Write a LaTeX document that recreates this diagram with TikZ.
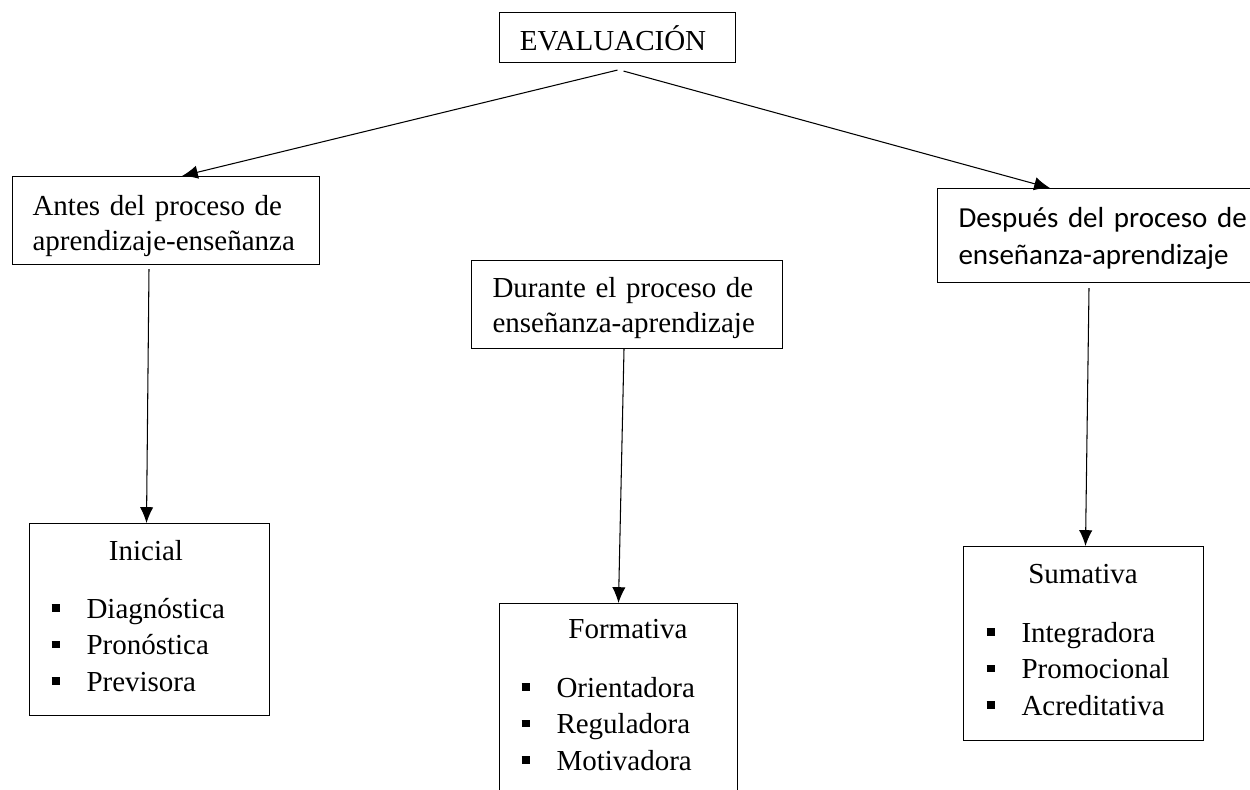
\documentclass[tikz,border=0pt]{standalone}
\usepackage{fontspec}
\setmainfont{Liberation Serif}
\newfontfamily\calibri{Carlito}
\usepackage{tikz}
\usetikzlibrary{arrows.meta, positioning, calc}

\newcommand{\cuadro}{\raisebox{0.13cm}{\rule{0.16cm}{0.15cm}}\hspace{0.54cm}}

\begin{document}
\begin{tikzpicture}[x=0.02cm, y=-0.02cm, line width=0.6pt,
  caja/.style={draw, inner sep=0pt, anchor=north west},
  texto/.style={anchor=base west, inner sep=0pt, align=left, font=\fontsize{16.5}{20.3}\selectfont},
  lista/.style={texto, font=\fontsize{16.5}{20.8}\selectfont},
  flecha/.style={-{Latex[length=9pt, width=7.6pt]}}]

  % Page
  \useasboundingbox (0,0) rectangle (1250,789);
  \clip (0,0) rectangle (1250,789);

  % EVALUACION
  \node[caja, minimum width=4.72cm, minimum height=1.0cm] (eval) at (499,12) {};
  \node[texto, anchor=base] (evaltxt) at (613,50) {EVALUACIÓN};

  % Before, during, after
  \node[caja, minimum width=6.14cm, minimum height=1.76cm] (antes) at (12,176) {};
  \node[texto, text width=5.8cm] (antestxt) at (32,215) {Antes del proceso de\\aprendizaje-enseñanza};

  \node[caja, minimum width=6.22cm, minimum height=1.76cm] (durante) at (471,260) {};
  \node[texto, text width=5.8cm] (durantetxt) at (492,297) {Durante el proceso de\\enseñanza-aprendizaje};

  \node[caja, minimum width=6.6cm, minimum height=1.88cm] (despues) at (937,188) {};
  \node[texto, text width=6cm, font=\calibri\fontsize{16.5}{21.6}\selectfont] (despuestxt) at (958,227) {Después del proceso de\\enseñanza-aprendizaje};

  % Inicial
  \node[caja, minimum width=4.8cm, minimum height=3.84cm] (inicial) at (29,523) {};
  \node[texto, anchor=base] (inicialtit) at (146,560) {Inicial};
  \node[lista, text width=4.2cm] (inicialls) at (51,618) {\cuadro Diagnóstica\\ \cuadro Pronóstica\\ \cuadro Previsora};

  % Formativa
  \node[caja, minimum width=4.76cm, minimum height=4.0cm] (formativa) at (499,603) {};
  \node[texto, anchor=base] (formativatit) at (628,638) {Formativa};
  \node[lista, text width=4.2cm] (formativals) at (521,697) {\cuadro Orientadora\\ \cuadro Reguladora\\ \cuadro Motivadora};

  % Sumativa
  \node[caja, minimum width=4.8cm, minimum height=3.88cm] (sumativa) at (963,546) {};
  \node[texto, anchor=base] (sumativatit) at (1083,583) {Sumativa};
  \node[lista, text width=4.2cm] (sumativals) at (986,642) {\cuadro Integradora\\ \cuadro Promocional\\ \cuadro Acreditativa};

  % Arrows
  \coordinate (evalizq) at ($(eval.south)+(0,7)$);
  \coordinate (evalder) at ($(eval.south)+(6,8)$);
  \draw[flecha] (evalizq) -- ($(antes.north)+(16,0)$);
  \draw[flecha] (evalder) -- ($(despues.north west)+(113,0)$);
  \draw[flecha] ($(antes.south)+(-17,4)$) -- ($(inicial.north)+(-3,0)$);
  \draw[flecha] ($(durante.south)+(-3,0)$) -- (formativa.north);
  \draw[flecha] ($(despues.south west)+(152,5)$) -- ($(sumativa.north)+(2,0)$);

\end{tikzpicture}
\end{document}
